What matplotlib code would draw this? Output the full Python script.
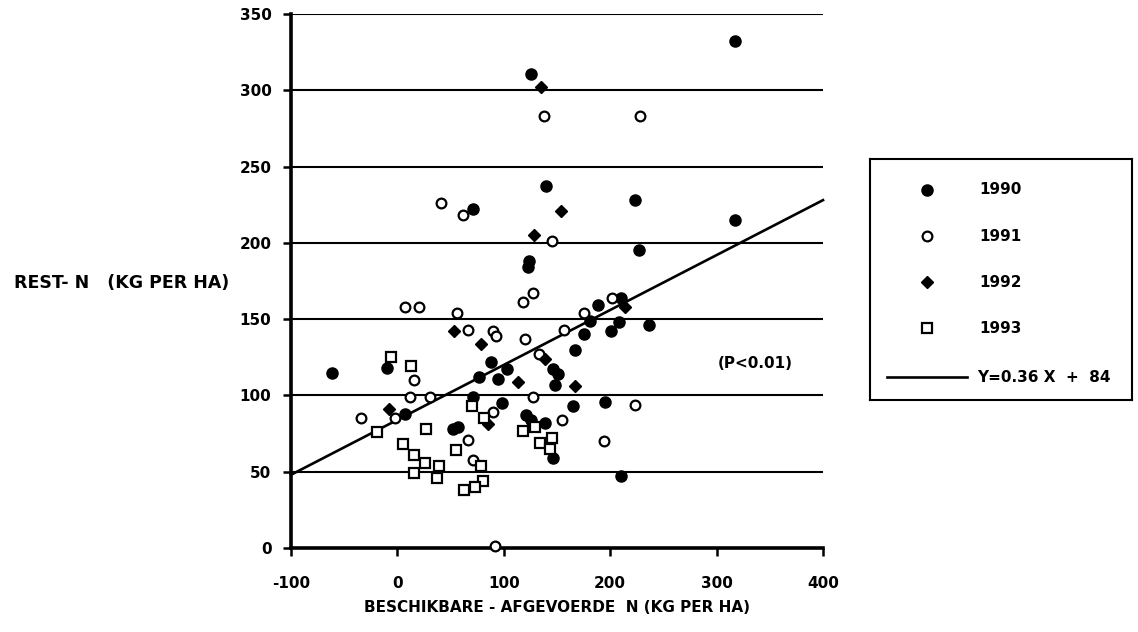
import matplotlib
matplotlib.use("Agg")
import matplotlib.pyplot as plt
import numpy as np

plt.rcParams['font.family'] = ['DejaVu Sans']
plt.rcParams['font.weight'] = 'bold'
plt.rcParams['axes.unicode_minus'] = False

# ---- data ----
x1990 = [126, 140, 71, 124, 123, 317, 223, 317, 227, -61, -10, 88, 103, 77, 95, 146, 151, 148, 71, 98,
         7, 52, 57, 121, 126, 139, 146, 210, 189, 181, 208, 236, 175, 201, 167, 165, 195, 210]
y1990 = [311, 237, 222, 188, 184, 332, 228, 215, 195, 115, 118, 122, 117, 112, 111, 117, 114, 107, 99, 95,
         88, 78, 79, 87, 84, 82, 59, 164, 159, 149, 148, 146, 140, 142, 130, 93, 96, 47]

x1991 = [138, 228, 41, 62, 145, 127, 118, 7, 20, 56, 66, 90, 93, 120, 157, 133, 16, 12, 31, 127,
         90, -2, -34, 66, 71, 92, 155, 202, 175, 223, 194]
y1991 = [283, 283, 226, 218, 201, 167, 161, 158, 158, 154, 143, 142, 139, 137, 143, 127, 110, 99, 99, 99,
         89, 85, 85, 71, 58, 1, 84, 164, 154, 94, 70]

x1992 = [135, 154, 128, 53, 79, 139, 113, -8, 85, 214, 167]
y1992 = [302, 221, 205, 142, 134, 124, 109, 91, 81, 158, 106]

x1993 = [-6, 13, 70, 81, -19, 27, 55, 5, 16, 26, 39, 16, 37, 79, 80, 73, 63, 118, 129, 134, 145, 143]
y1993 = [125, 119, 93, 85, 76, 78, 64, 68, 61, 56, 54, 49, 46, 54, 44, 40, 38, 77, 79, 69, 72, 65]

fit_x = [-100, 400]
slope = 0.36
intercept = 84

x_ticks = [-100, 0, 100, 200, 300, 400]
y_ticks = [0, 50, 100, 150, 200, 250, 300, 350]
series_labels = ['1990', '1991', '1992', '1993']
fit_label = 'Y=0.36 X  +  84'
p_text = '(P<0.01)'

W, H = 1138, 632
fig = plt.figure(figsize=(W / 100, H / 100), dpi=100)
ax = fig.add_axes([291 / W, 1 - 548 / H, (823 - 291) / W, (548 - 14) / H])

ax.set_xlim(-100, 400)
ax.set_ylim(0, 350)

for yv in y_ticks[1:]:
    ax.axhline(yv, color='black', lw=1.5, zorder=1)

fit_y = [slope * v + intercept for v in fit_x]
ax.plot(fit_x, fit_y, color='black', lw=1.9, zorder=2, clip_on=False)

styles = {
    '1990': dict(marker='o', ms=8, mfc='black', mec='black', mew=1.0),
    '1991': dict(marker='o', ms=7, mfc='white', mec='black', mew=1.6),
    '1992': dict(marker='D', ms=6.5, mfc='black', mec='black', mew=1.0),
    '1993': dict(marker='s', ms=7, mfc='white', mec='black', mew=1.6),
}
data = {'1990': (x1990, y1990), '1991': (x1991, y1991), '1992': (x1992, y1992), '1993': (x1993, y1993)}
for lab in series_labels:
    xs, ys = data[lab]
    ax.plot(xs, ys, ls='none', zorder=3, clip_on=False, **styles[lab])

ax.text(336, 121, p_text, ha='center', va='center', fontsize=11, fontweight='bold')

for s in ['top', 'right']:
    ax.spines[s].set_visible(False)
for s in ['left', 'bottom']:
    ax.spines[s].set_linewidth(2.6)
ax.set_xticks(x_ticks)
ax.set_yticks(y_ticks)
ax.tick_params(axis='both', direction='out', length=6, width=1.8, labelsize=11)
ax.tick_params(axis='x', pad=14)
ax.tick_params(axis='y', pad=8)
for t in ax.get_xticklabels() + ax.get_yticklabels():
    t.set_fontweight('bold')

fig.text(122 / W, 1 - 283 / H, 'REST- N   (KG PER HA)', ha='center', va='center', fontsize=12.5, fontweight='bold')
fig.text(557 / W, 1 - 607 / H, 'BESCHIKBARE - AFGEVOERDE  N (KG PER HA)', ha='center', va='center',
         fontsize=11, fontweight='bold')

# legend box
lx0, lx1, ly0, ly1 = 870, 1132, 159, 400
lax = fig.add_axes([lx0 / W, 1 - ly1 / H, (lx1 - lx0) / W, (ly1 - ly0) / H])
lax.set_xlim(lx0, lx1)
lax.set_ylim(ly1, ly0)
lax.set_xticks([])
lax.set_yticks([])
for s in lax.spines.values():
    s.set_linewidth(1.5)
rows = [190, 236, 282, 328]
for lab, ry in zip(series_labels, rows):
    lax.plot([927], [ry], ls='none', **styles[lab])
    lax.text(979, ry, lab, ha='left', va='center', fontsize=11, fontweight='bold')
lax.plot([887, 967], [377, 377], color='black', lw=1.9)
lax.text(977, 377, fit_label, ha='left', va='center', fontsize=11, fontweight='bold')

fig.savefig('out.png', dpi=100)
